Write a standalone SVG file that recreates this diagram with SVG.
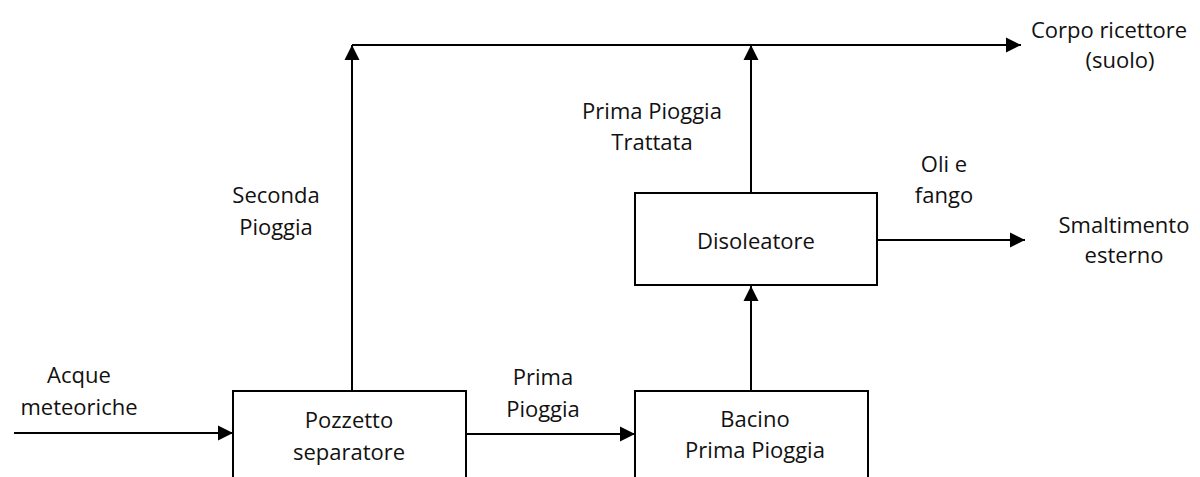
<svg xmlns="http://www.w3.org/2000/svg" width="1200" height="477" viewBox="0 0 1200 477">
<style>
  .box { fill: #fff; stroke: #000; stroke-width: 2; }
  .ln { fill: none; stroke: #000; stroke-width: 2; }
  .t { font-family: "Open Sans", "Noto Sans", sans-serif; font-size: 22px; fill: #111; text-anchor: middle; }
</style>
<defs>
  <marker id="arr" markerUnits="userSpaceOnUse" markerWidth="16" markerHeight="16" viewBox="0 0 16 16" refX="15" refY="8" orient="auto">
    <path d="M0,0.5 L15,8 L0,15.5 Z" fill="#000"/>
  </marker>
</defs>
<rect width="1200" height="477" fill="#fff"/>
<g id="connectors">
  <line class="ln" x1="14" y1="433" x2="233" y2="433" marker-end="url(#arr)"/>
  <line class="ln" x1="466" y1="434" x2="635" y2="434" marker-end="url(#arr)"/>
  <line class="ln" x1="352" y1="390" x2="352" y2="45" marker-end="url(#arr)"/>
  <line class="ln" x1="751" y1="390" x2="751" y2="286" marker-end="url(#arr)"/>
  <line class="ln" x1="751" y1="193" x2="751" y2="45" marker-end="url(#arr)"/>
  <line class="ln" x1="352" y1="45" x2="1021" y2="45" marker-end="url(#arr)"/>
  <line class="ln" x1="877" y1="240" x2="1025" y2="240" marker-end="url(#arr)"/>
</g>
<g id="label-acque">
  <text class="t" x="79" y="383">Acque</text>
  <text class="t" x="79" y="415">meteoriche</text>
</g>
<g id="node-pozzetto">
  <rect class="box" x="233" y="391" width="233" height="110"/>
  <text class="t" x="349" y="428">Pozzetto</text>
  <text class="t" x="349" y="460">separatore</text>
</g>
<g id="label-prima">
  <text class="t" x="543" y="385">Prima</text>
  <text class="t" x="543" y="417">Pioggia</text>
</g>
<g id="node-bacino">
  <rect class="box" x="635" y="391" width="233" height="110"/>
  <text class="t" x="755" y="427">Bacino</text>
  <text class="t" x="755" y="458">Prima Pioggia</text>
</g>
<g id="node-disoleatore">
  <rect class="box" x="635" y="193" width="242" height="92"/>
  <text class="t" x="756" y="249">Disoleatore</text>
</g>
<g id="label-seconda">
  <text class="t" x="276" y="203">Seconda</text>
  <text class="t" x="276" y="235">Pioggia</text>
</g>
<g id="label-trattata">
  <text class="t" x="652" y="119">Prima Pioggia</text>
  <text class="t" x="652" y="150">Trattata</text>
</g>
<g id="label-oli">
  <text class="t" x="944" y="172">Oli e</text>
  <text class="t" x="944" y="203">fango</text>
</g>
<g id="label-smaltimento">
  <text class="t" x="1124" y="233">Smaltimento</text>
  <text class="t" x="1124" y="263">esterno</text>
</g>
<g id="label-corpo">
  <text class="t" x="1109" y="38">Corpo ricettore</text>
  <text class="t" x="1120" y="68">(suolo)</text>
</g>
</svg>
